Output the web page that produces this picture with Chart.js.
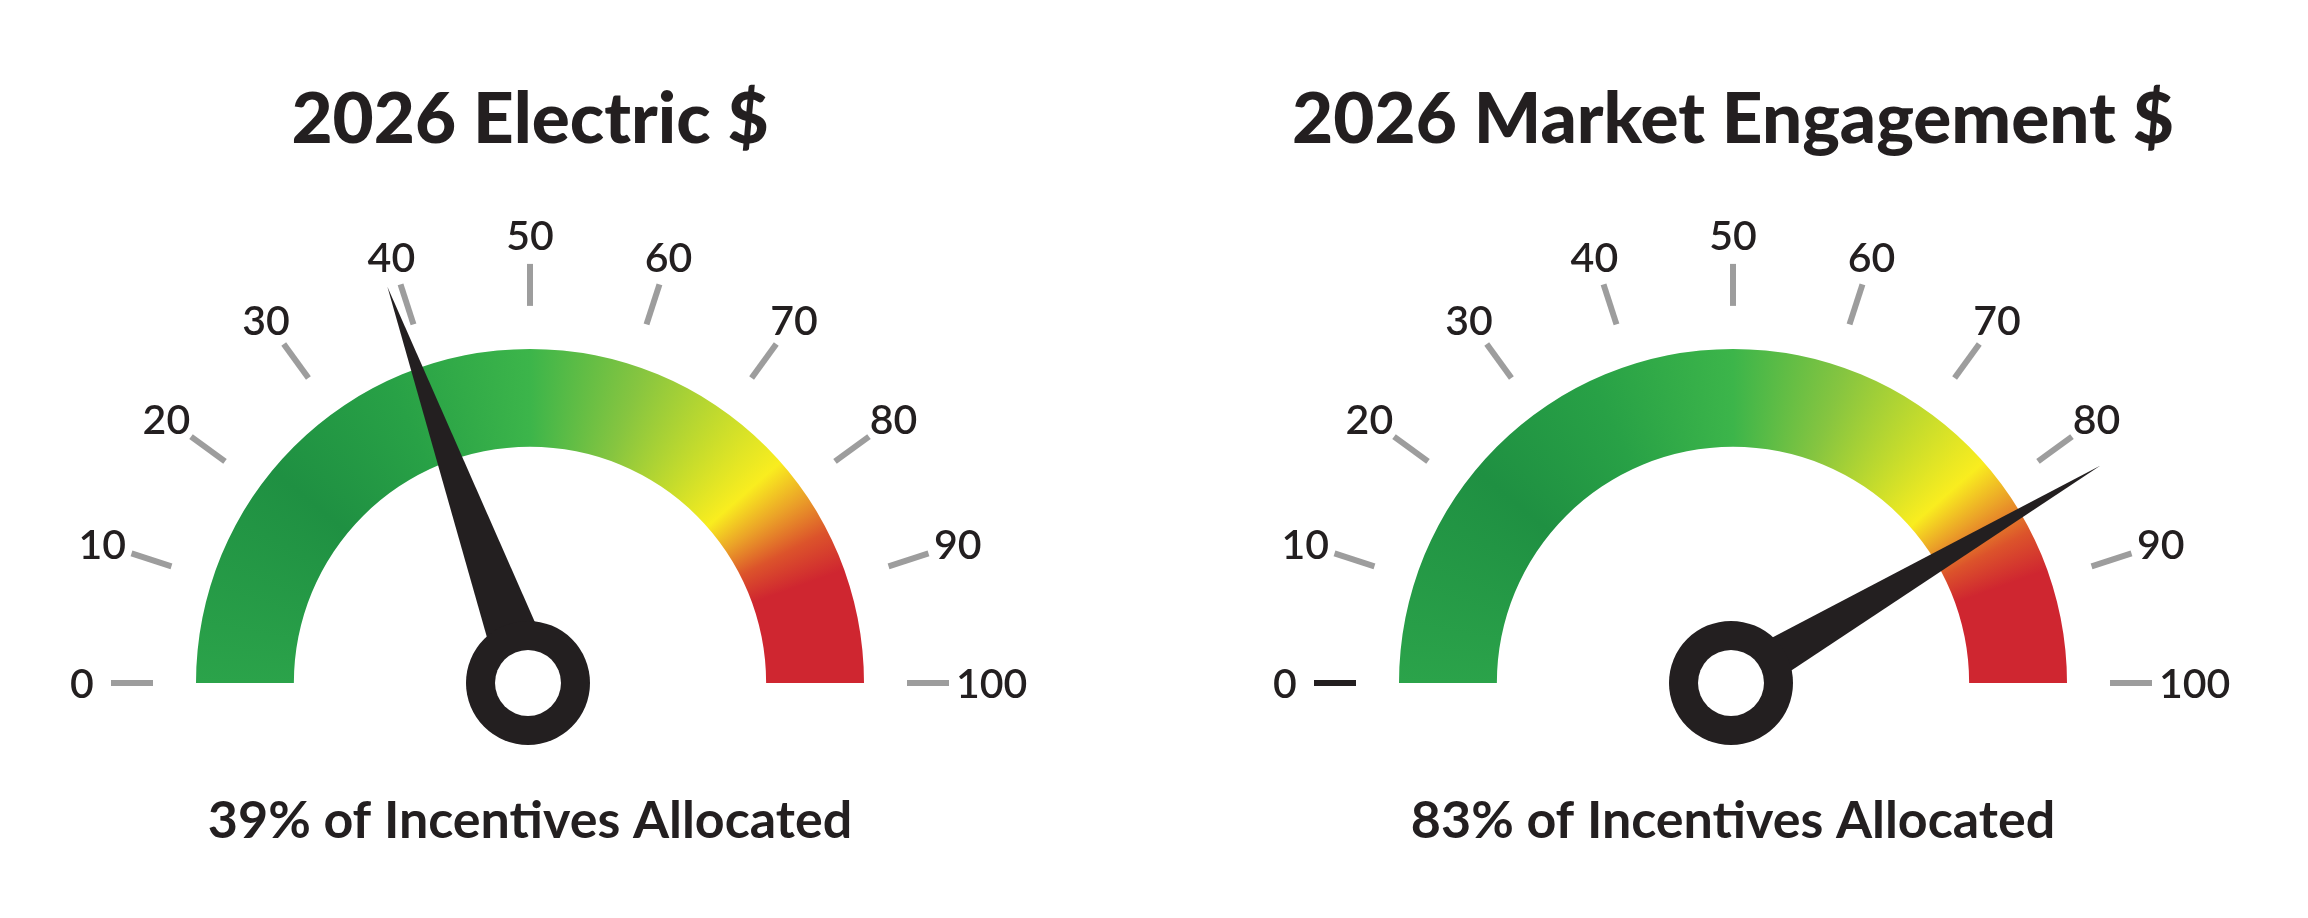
<!DOCTYPE html>
<html>
<head>
<meta charset="utf-8">
<title>2026 Incentives Gauges</title>
<script src="https://cdn.jsdelivr.net/npm/chart.js@4.4.1/dist/chart.umd.min.js"></script>
<style>
    html, body { margin: 0; padding: 0; background: #ffffff; }
    #wrap { display: flex; width: 2308px; height: 918px; }
    .gauge { position: relative; width: 1154px; height: 918px; }
</style>
</head>
<body>
<div id="wrap">
    <div class="gauge"><canvas id="electricGauge"></canvas></div>
    <div class="gauge"><canvas id="marketGauge"></canvas></div>
</div>
<script>
(function() {
    'use strict';

    // ===================================
    // Data
    // ===================================
    const gaugeTitles = ['2026 Electric $', '2026 Market Engagement $'];
    const allocatedPct = [39, 83];
    const gaugeMax = 100;
    const tickValues = [0, 10, 20, 30, 40, 50, 60, 70, 80, 90, 100];
    const tickLabels = ['0', '10', '20', '30', '40', '50', '60', '70', '80', '90', '100'];

    // ===================================
    // Style
    // ===================================
    const FONT = 'Lato, "Open Sans", sans-serif';
    const INK = '#231f20';
    const TICK_GRAY = '#9d9d9d';

    // colour ramp along the dial (scale value -> colour)
    const RAMP = [
        [0, '#2ba34a'], [22, '#1f9042'], [36, '#28a146'], [50, '#3cb54a'],
        [61, '#86c540'], [70, '#c6dc2c'], [77, '#f9ed1f'], [81, '#eba228'],
        [85, '#dc532b'], [89, '#cf2630'], [100, '#cf2630']
    ];

    /**
     * Conic gradient centred on the dial, starting at the 0 mark (left)
     */
    function gradientFill(context) {
        const chart = context.chart;
        const area = chart.chartArea;
        if (!area) return '#3cb54a';
        const r = chart.options.radius;
        const cx = (area.left + area.right) / 2;
        const cy = (area.top + area.bottom) / 2 + r / 2;
        const grad = chart.ctx.createConicGradient(Math.PI, cx, cy);
        RAMP.forEach(([v, c]) => grad.addColorStop(v / (2 * gaugeMax), c));
        grad.addColorStop(1, '#2ba34a');
        return grad;
    }

    // ===================================
    // Dial decorations: ticks, labels, needle, hub
    // ===================================
    const gaugeDecor = {
        id: 'gaugeDecor',
        afterDatasetsDraw(chart, args, opts) {
            const arc = chart.getDatasetMeta(0).data[0];
            if (!arc) return;
            const { x, y, startAngle, endAngle, outerRadius } =
                arc.getProps(['x', 'y', 'startAngle', 'endAngle', 'outerRadius'], true);
            const ctx = chart.ctx;
            const angleOf = v => startAngle + (v / gaugeMax) * (endAngle - startAngle);

            ctx.save();

            // ticks + labels
            ctx.font = '600 41px ' + FONT;
            ctx.textAlign = 'center';
            ctx.textBaseline = 'middle';
            tickValues.forEach((v, i) => {
                const a = angleOf(v);
                const cos = Math.cos(a), sin = Math.sin(a);
                ctx.strokeStyle = (i === 0 && opts.zeroTickColor) ? opts.zeroTickColor : TICK_GRAY;
                ctx.lineWidth = 6;
                ctx.beginPath();
                ctx.moveTo(x + cos * (outerRadius + 43), y + sin * (outerRadius + 43));
                ctx.lineTo(x + cos * (outerRadius + 85), y + sin * (outerRadius + 85));
                ctx.stroke();

                const w = ctx.measureText(tickLabels[i]).width;
                const lr = outerRadius + 114 + Math.max(0, w / 2 - 22) * Math.abs(cos);
                ctx.fillStyle = INK;
                ctx.fillText(tickLabels[i], x + cos * lr, y + sin * lr + 2);
            });

            // needle
            const a = angleOf(opts.value);
            const hw = opts.needleHalfWidth;
            const len = opts.needleLength;
            ctx.fillStyle = INK;
            ctx.beginPath();
            ctx.moveTo(x + Math.cos(a) * len, y + Math.sin(a) * len);
            ctx.lineTo(x + Math.cos(a + Math.PI / 2) * hw, y + Math.sin(a + Math.PI / 2) * hw);
            ctx.lineTo(x + Math.cos(a - Math.PI / 2) * hw, y + Math.sin(a - Math.PI / 2) * hw);
            ctx.closePath();
            ctx.fill();

            // hub ring
            ctx.beginPath();
            ctx.arc(x - 2, y, 62, 0, Math.PI * 2);
            ctx.fill();
            ctx.fillStyle = '#ffffff';
            ctx.beginPath();
            ctx.arc(x - 2, y, 33, 0, Math.PI * 2);
            ctx.fill();

            ctx.restore();
        }
    };

    /**
     * Build one half-doughnut gauge
     */
    function buildGauge(canvasId, idx, extra) {
        return new Chart(document.getElementById(canvasId), {
            type: 'doughnut',
            data: {
                labels: [gaugeTitles[idx]],
                datasets: [{
                    data: [gaugeMax],
                    backgroundColor: gradientFill,
                    borderWidth: 0,
                    hoverOffset: 0
                }]
            },
            options: {
                responsive: true,
                maintainAspectRatio: false,
                animation: false,
                events: [],
                rotation: -90,
                circumference: 180,
                radius: 334,
                cutout: '70.7%',
                layout: {
                    padding: { left: extra.padLeft, right: extra.padRight, top: 0, bottom: 0 }
                },
                plugins: {
                    legend: { display: false },
                    tooltip: { enabled: false },
                    title: {
                        display: true,
                        text: gaugeTitles[idx],
                        color: INK,
                        font: { family: FONT, size: 71, weight: '900' },
                        padding: { top: 78, bottom: 79 }
                    },
                    subtitle: {
                        display: true,
                        position: 'bottom',
                        text: allocatedPct[idx] + '% of Incentives Allocated',
                        color: INK,
                        font: { family: FONT, size: 52, weight: 'bold' },
                        padding: { top: 0, bottom: 66 }
                    },
                    gaugeDecor: {
                        value: allocatedPct[idx],
                        needleHalfWidth: extra.needleHalfWidth,
                        needleLength: extra.needleLength,
                        zeroTickColor: extra.zeroTickColor
                    }
                }
            },
            plugins: [gaugeDecor]
        });
    }

    // ===================================
    // Initialize
    // ===================================
    buildGauge('electricGauge', 0, {
        padLeft: 0, padRight: 94, needleHalfWidth: 29, needleLength: 421, zeroTickColor: null
    });
    buildGauge('marketGauge', 1, {
        padLeft: 4, padRight: 0, needleHalfWidth: 22, needleLength: 427, zeroTickColor: INK
    });
})();
</script>
</body>
</html>
